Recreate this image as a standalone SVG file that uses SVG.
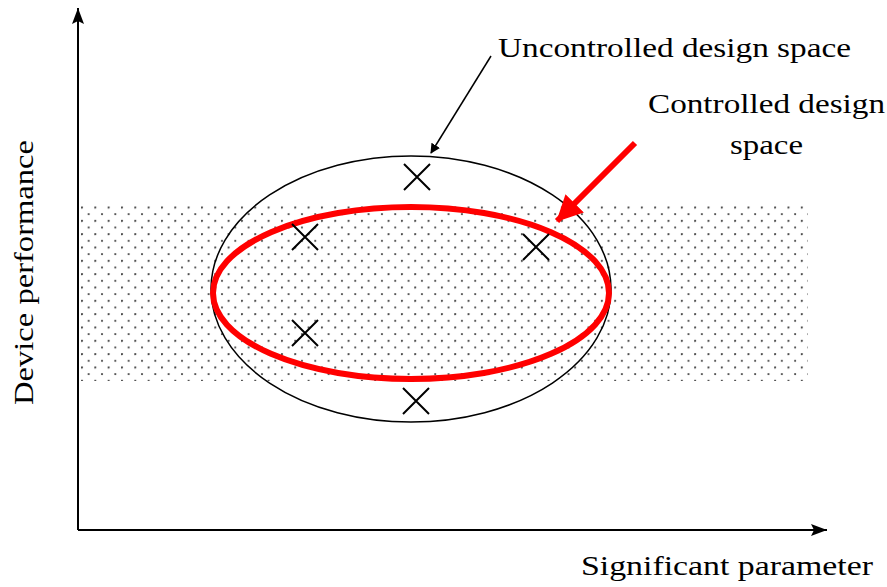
<svg xmlns="http://www.w3.org/2000/svg" width="887" height="587" viewBox="0 0 887 587">
<defs>
<pattern id="dots" width="13.33" height="13.33" patternUnits="userSpaceOnUse" x="81" y="206.5">
<circle cx="1" cy="1" r="1.1" fill="#444"/>
<circle cx="7.67" cy="7.67" r="1.1" fill="#444"/>
</pattern>
<marker id="ah" viewBox="0 0 10 10" refX="9" refY="5" markerWidth="10" markerHeight="10" markerUnits="userSpaceOnUse" orient="auto">
<path d="M0,0 L10,5 L0,10 z" fill="#000"/>
</marker>
<marker id="axh" viewBox="0 0 16 12" refX="16" refY="6" markerWidth="16" markerHeight="12" markerUnits="userSpaceOnUse" orient="auto">
<path d="M0,0 L16,6 L0,12 L3,6 z" fill="#000"/>
</marker>
<marker id="rh" viewBox="0 0 26 26" refX="25" refY="13" markerWidth="26" markerHeight="26" markerUnits="userSpaceOnUse" orient="auto">
<path d="M0,0 L26,13 L0,26 z" fill="#f00"/>
</marker>
</defs>
<style>
text{font-family:"Liberation Serif","DejaVu Serif",serif;font-size:28px;fill:#000}
.x{stroke:#000;stroke-width:2;fill:none}
</style>
<g id="band"><rect x="78" y="204" width="730" height="177" fill="url(#dots)"/></g>
<g id="axes">
<line x1="78" y1="530" x2="78" y2="8" stroke="#000" stroke-width="2" marker-end="url(#axh)"/>
<line x1="78" y1="530" x2="827" y2="530" stroke="#000" stroke-width="2" marker-end="url(#axh)"/>
</g>
<g id="uncontrolled"><ellipse cx="411" cy="289" rx="200" ry="133" fill="none" stroke="#000" stroke-width="1.5"/></g>
<g id="controlled"><ellipse cx="411" cy="293" rx="198" ry="86" fill="none" stroke="#f00" stroke-width="6"/></g>
<g id="marks">
<path class="x" d="M404,164 L430,190 M430,164 L404,190"/>
<path class="x" d="M292,224 L318,250 M318,224 L292,250"/>
<path class="x" d="M523,234 L549,260 M549,234 L523,260"/>
<path class="x" d="M292,320 L318,346 M318,320 L292,346"/>
<path class="x" d="M403,388 L429,414 M429,388 L403,414"/>
</g>
<g id="connectors">
<line x1="491" y1="56" x2="431" y2="153" stroke="#000" stroke-width="1.5" marker-end="url(#ah)"/>
<line x1="635" y1="143" x2="557" y2="221" stroke="#f00" stroke-width="6" marker-end="url(#rh)"/>
</g>
<g id="labels">
<text x="498" y="57" textLength="353" lengthAdjust="spacingAndGlyphs">Uncontrolled design space</text>
<text x="648" y="113" textLength="237" lengthAdjust="spacingAndGlyphs">Controlled design</text>
<text x="730" y="154" textLength="73" lengthAdjust="spacingAndGlyphs">space</text>
<text x="581" y="575" textLength="292" lengthAdjust="spacingAndGlyphs">Significant parameter</text>
<text transform="translate(33,405) rotate(-90)" textLength="265" lengthAdjust="spacingAndGlyphs">Device performance</text>
</g>
</svg>
